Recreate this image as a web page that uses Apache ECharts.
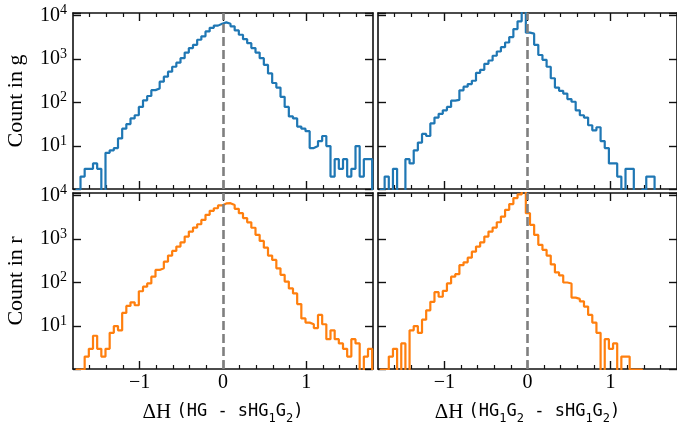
<!DOCTYPE html>
<html>
<head>
<meta charset="utf-8">
<script src="https://cdn.jsdelivr.net/npm/echarts@6/dist/echarts.min.js"></script>
<style>
  html, body { margin: 0; padding: 0; background: #fff; }
  #chart { width: 677px; height: 430px; }
</style>
</head>
<body>
<div id="chart"></div>
<script>
// histogram bins: width 0.05, first edge per column
var binWidth = 0.05;
var firstEdgeHG = -1.76;     // left column, HG - sHG1G2
var firstEdgeHG1G2 = -1.77;  // right column, HG1G2 - sHG1G2

// counts per bin (0 = empty bin)
var countG_HG = [1, 2, 3, 3, 4, 3, 0, 7, 8, 9, 15, 25, 32, 43, 51, 79, 112, 141, 192, 210,
  300, 390, 510, 660, 820, 1040, 1400, 1770, 2100, 2750, 3300, 4270, 5150, 5800, 6420, 6900,
  6420, 5600, 4500, 3580, 2840, 2300, 1770, 1400, 1040, 730, 465, 280, 220, 135, 79, 48, 43,
  28, 25, 22, 9, 10, 13, 17, 10, 2, 5, 3, 5, 2, 3, 10, 2, 5, 5];
var countG_HG1G2 = [1, 2, 0, 3, 0, 0, 5, 4, 8, 12, 19, 17, 33, 45, 55, 66, 79, 110, 115, 190,
  230, 265, 315, 480, 560, 770, 920, 1180, 1480, 1860, 2380, 3170, 4830, 7260, 14000, 4000,
  3800, 2100, 1230, 950, 660, 360, 220, 185, 160, 120, 104, 66, 51, 45, 30, 23, 27, 13, 9, 4,
  4, 2, 0, 3, 3, 0, 0, 1, 2, 2, 0, 0, 0, 0, 0];
var countR_HG = [1, 1, 2, 3, 6, 3, 2, 3, 7, 10, 8, 20, 29, 35, 30, 63, 80, 95, 136, 194, 213,
  300, 415, 530, 667, 835, 1130, 1475, 1820, 2170, 2730, 3560, 4400, 5050, 5850, 6500, 6600,
  6000, 4900, 3900, 3000, 2400, 1800, 1240, 900, 630, 415, 330, 211, 150, 105, 73, 56, 32, 15,
  12, 11, 9, 18, 11, 5, 8, 5, 4, 3, 2, 5, 4, 0, 2, 3];
var countR_HG1G2 = [1, 1, 2, 3, 0, 4, 0, 8, 10, 7, 14, 23, 36, 60, 47, 64, 95, 136, 155, 250,
  290, 370, 510, 665, 835, 1130, 1475, 1820, 2410, 3260, 4650, 6280, 8650, 10500, 15000, 3900,
  2100, 1235, 730, 560, 415, 260, 170, 145, 100, 95, 45, 42, 37, 28, 18, 12, 7, 0, 5, 3, 4, 0,
  2, 2, 1, 1, 1, 0, 0, 0, 0, 0, 0, 0, 0];

var xMajor = [-1, 0, 1];
var xMinor = [-1.6, -1.4, -1.2, -0.8, -0.6, -0.4, -0.2, 0.2, 0.4, 0.6, 0.8, 1.2, 1.4, 1.6];
var xRange = [-1.8, 1.8];
var yRange = [1.035, 11300];
var zeroFloor = 0.1; // empty bins drop below the log axis floor

var serif = 'Liberation Serif';
var mono = 'DejaVu Sans Mono';
var ink = '#111';
var blue = '#1f77b4';
var orange = '#ff7f0e';

var nameHG = '{d|ΔH }{t|(HG - sHG}{u|1}{t|G}{u|2}{t|)}';
var nameHG1G2 = '{d|ΔH }{t|(HG}{u|1}{t|G}{u|2}{t| - sHG}{u|1}{t|G}{u|2}{t|)}';

var panels = [
  { grid: { left: 73, top: 13, width: 300, height: 176 }, counts: countG_HG, first: firstEdgeHG, color: blue, row: 0, col: 0, yName: 'Count in g' },
  { grid: { left: 378, top: 13, width: 300, height: 176 }, counts: countG_HG1G2, first: firstEdgeHG1G2, color: blue, row: 0, col: 1 },
  { grid: { left: 73, top: 193, width: 300, height: 176 }, counts: countR_HG, first: firstEdgeHG, color: orange, row: 1, col: 0, yName: 'Count in r', xName: nameHG },
  { grid: { left: 378, top: 193, width: 300, height: 176 }, counts: countR_HG1G2, first: firstEdgeHG1G2, color: orange, row: 1, col: 1, xName: nameHG1G2 }
];

function stepData(counts, first) {
  var pts = [[first, zeroFloor]];
  for (var i = 0; i < counts.length; i++) {
    pts.push([first + i * binWidth, counts[i] > 0 ? counts[i] : zeroFloor]);
  }
  var end = first + counts.length * binWidth;
  var last = counts[counts.length - 1];
  pts.push([end, last > 0 ? last : zeroFloor]);
  pts.push([end, zeroFloor]);
  return pts;
}

function minusFmt(v) {
  return v < 0 ? '\u2212' + (-v) : String(v);
}

function powFmt(v) {
  var e = Math.log10(v);
  var r = Math.round(e);
  if (Math.abs(e - r) > 1e-6) return '';
  return '{b|10}{s|' + r + '}';
}

var grids = [], xAxes = [], yAxes = [], series = [];

panels.forEach(function (p, gi) {
  grids.push(p.grid);

  ['bottom', 'top'].forEach(function (pos) {
    var isLabelled = pos === 'bottom' && p.row === 1;
    xAxes.push({
      type: 'value', gridIndex: gi, position: pos, min: xRange[0], max: xRange[1],
      axisLine: { show: true, onZero: false, lineStyle: { color: ink, width: 1.6 } },
      axisTick: { show: true, inside: true, length: 8, customValues: xMajor, lineStyle: { color: ink, width: 1.4 } },
      axisLabel: { show: isLabelled, customValues: xMajor, formatter: minusFmt, margin: 4,
        fontFamily: serif, fontSize: 20, color: '#000' },
      splitLine: { show: false },
      name: isLabelled ? p.xName : '', nameLocation: 'middle', nameGap: 30,
      nameTextStyle: { color: '#000', fontFamily: serif, fontSize: 20, rich: {
        d: { fontFamily: serif, fontSize: 21, lineHeight: 26, color: '#000' },
        t: { fontFamily: mono, fontSize: 17, lineHeight: 26, color: '#000' },
        u: { fontFamily: mono, fontSize: 12, lineHeight: 13, verticalAlign: 'bottom', color: '#000' }
      } }
    });
    xAxes.push({
      type: 'value', gridIndex: gi, position: pos, min: xRange[0], max: xRange[1],
      axisLine: { show: false, onZero: false },
      axisTick: { show: true, inside: true, length: 4, customValues: xMinor, lineStyle: { color: ink, width: 1.2 } },
      axisLabel: { show: false },
      splitLine: { show: false }
    });
  });
  var xIndex = xAxes.length - 4;

  ['left', 'right'].forEach(function (pos) {
    var isLabelled = pos === 'left' && p.col === 0;
    yAxes.push({
      type: 'log', gridIndex: gi, position: pos, min: yRange[0], max: yRange[1],
      axisLine: { show: true, onZero: false, lineStyle: { color: ink, width: 1.6 } },
      axisTick: { show: true, inside: true, length: 8, lineStyle: { color: ink, width: 1.4 } },
      minorTick: { show: false },
      axisLabel: { show: isLabelled, formatter: powFmt, margin: 6, rich: {
        b: { fontFamily: serif, fontSize: 20, lineHeight: 24, color: '#000' },
        s: { fontFamily: serif, fontSize: 14, lineHeight: 14, verticalAlign: 'top', color: '#000' }
      } },
      splitLine: { show: false },
      name: isLabelled ? p.yName : '', nameLocation: 'middle', nameGap: 46, nameRotate: 90,
      nameTextStyle: { color: '#000', fontFamily: serif, fontSize: 22 }
    });
  });
  var yIndex = yAxes.length - 2;

  series.push({
    type: 'line', xAxisIndex: xIndex, yAxisIndex: yIndex, step: 'end',
    data: stepData(p.counts, p.first), showSymbol: false, symbol: 'none',
    lineStyle: { color: p.color, width: 2.2 }, clip: true, z: 2, silent: true
  });
  series.push({
    type: 'line', xAxisIndex: xIndex, yAxisIndex: yIndex, data: [], z: 5, silent: true,
    markLine: {
      silent: true, symbol: 'none', label: { show: false },
      lineStyle: { color: '#7f7f7f', width: 2.6, type: [9, 4] },
      data: [{ xAxis: 0 }]
    }
  });
});

var chart = echarts.init(document.getElementById('chart'), null, { renderer: 'canvas' });
chart.setOption({
  animation: false,
  backgroundColor: '#fff',
  grid: grids,
  xAxis: xAxes,
  yAxis: yAxes,
  series: series
});
</script>
</body>
</html>
